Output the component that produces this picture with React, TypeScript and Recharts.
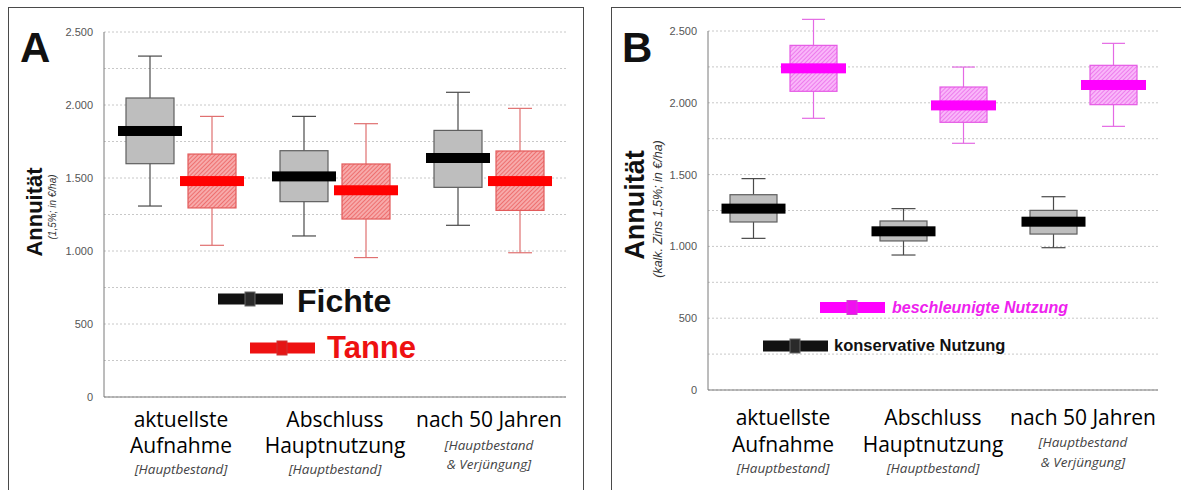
import React from 'react';
import { ComposedChart, Bar, XAxis, YAxis, CartesianGrid } from 'recharts';

// Category keys and their multi-line captions
const categoryKeys = ['aktuell', 'abschluss', 'nach50'];
const categoryTitles = [['aktuellste', 'Aufnahme'], ['Abschluss', 'Hauptnutzung'], ['nach 50 Jahren']];
const categoryNotes = [['[Hauptbestand]'], ['[Hauptbestand]'], ['[Hauptbestand', '& Verjüngung]']];

// Five-number summaries per category: [min, q1, median, q3, max] in €/ha
const fichte = [
  [1308, 1598, 1822, 2048, 2335],
  [1103, 1338, 1511, 1687, 1922],
  [1176, 1436, 1637, 1826, 2087],
];
const tanne = [
  [1039, 1295, 1479, 1664, 1922],
  [955, 1219, 1416, 1596, 1872],
  [988, 1278, 1479, 1685, 1977],
];
const konservativ = [
  [1056, 1170, 1263, 1360, 1472],
  [940, 1038, 1105, 1177, 1263],
  [991, 1086, 1172, 1251, 1346],
];
const beschleunigt = [
  [1892, 2080, 2240, 2400, 2581],
  [1718, 1864, 1982, 2110, 2249],
  [1836, 1987, 2124, 2261, 2414],
];

const yTicks = [0, 250, 500, 750, 1000, 1250, 1500, 1750, 2000, 2250, 2500];
const yLabelStep = 500;

type Stats = { min: number; q1: number; median: number; q3: number; max: number };
const toStats = (v: number[]): Stats => ({ min: v[0], q1: v[1], median: v[2], q3: v[3], max: v[4] });

const rowsA = categoryKeys.map((cat, i) => ({ cat, s1: toStats(fichte[i]), s2: toStats(tanne[i]) }));
const rowsB = categoryKeys.map((cat, i) => ({ cat, s1: toStats(konservativ[i]), s2: toStats(beschleunigt[i]) }));

type BoxStyle = {
  fill: string;
  border: string;
  whisker: string;
  median: string;
  capWidth: number;
  medianWidth: number;
};

const styleGray: BoxStyle = { fill: '#BEBEBE', border: '#5f5f5f', whisker: '#4a4a4a', median: '#000000', capWidth: 24, medianWidth: 64 };
const styleRed: BoxStyle = { fill: 'url(#hatchRed)', border: '#E25A5A', whisker: '#E07070', median: '#FF0000', capWidth: 24, medianWidth: 64 };
const styleMagenta: BoxStyle = { fill: 'url(#hatchMagenta)', border: '#E55AE5', whisker: '#E46AE4', median: '#FF00FF', capWidth: 23, medianWidth: 65 };

// The bar spans q1..q3 through the chart's y scale; the rest of the box plot
// is placed with the same pixel-per-value ratio.
const makeBoxShape = (key: 's1' | 's2', st: BoxStyle, rows: any[]) => (props: any) => {
  const { x, y, width, height, index } = props;
  const row = props.payload && props.payload[key] ? props.payload : rows[index];
  const s: Stats = row[key];
  const top = Math.min(y, y + height);
  const bottom = Math.max(y, y + height);
  const k = (bottom - top) / (s.q3 - s.q1);
  const toY = (v: number) => bottom - (v - s.q1) * k;
  const cx = x + width / 2;
  const yMax = toY(s.max);
  const yMin = toY(s.min);
  const yQ3 = toY(s.q3);
  const yQ1 = toY(s.q1);
  const yMed = toY(s.median);
  return (
    <g>
      <line x1={cx} x2={cx} y1={yMax} y2={yMin} stroke={st.whisker} strokeWidth={1.2} />
      <line x1={cx - st.capWidth / 2} x2={cx + st.capWidth / 2} y1={yMax} y2={yMax} stroke={st.whisker} strokeWidth={1.2} />
      <line x1={cx - st.capWidth / 2} x2={cx + st.capWidth / 2} y1={yMin} y2={yMin} stroke={st.whisker} strokeWidth={1.2} />
      <rect x={cx - width / 2} y={yQ3} width={width} height={yQ1 - yQ3} fill={st.fill} stroke={st.border} strokeWidth={1.2} />
      <rect x={cx - st.medianWidth / 2} y={yMed - 5} width={st.medianWidth} height={10} fill={st.median} />
    </g>
  );
};

const fmt = (v: number) => (v % yLabelStep === 0 ? v.toLocaleString('de-DE') : '');

const makeCategoryTick = (titleY: number[], noteY: number[][]) => (props: any) => {
  const { x, y, payload, index } = props;
  const i = typeof index === 'number' ? index : categoryKeys.indexOf(payload.value);
  const titles = categoryTitles[i];
  const notes = categoryNotes[i];
  const ny = noteY[notes.length === 1 ? 0 : 1];
  return (
    <g>
      {titles.map((t, j) => (
        <text key={'t' + j} x={x} y={y + titleY[j]} textAnchor="middle" fontFamily="'Open Sans', sans-serif" fontWeight={500} fontSize={21} fill="#000">
          {t}
        </text>
      ))}
      {notes.map((t, j) => (
        <text key={'n' + j} x={x} y={y + ny[j]} textAnchor="middle" fontFamily="'Open Sans', sans-serif" fontStyle="italic" fontSize={13.5} fill="#444">
          {t}
        </text>
      ))}
    </g>
  );
};

const emptyTick = () => <g />;

type PanelProps = {
  rows: any[];
  width: number;
  margin: { top: number; right: number; bottom: number; left: number };
  xAxisHeight: number;
  barSize: number;
  barGap: number;
  st1: BoxStyle;
  st2: BoxStyle;
  titleY: number[];
  noteY: number[][];
  name1: string;
  name2: string;
};

const Panel = (p: PanelProps) => (
  <ComposedChart width={p.width} height={490} data={p.rows} margin={p.margin} barGap={p.barGap} barSize={p.barSize}>
    <CartesianGrid vertical={false} stroke="#c8c8c8" strokeDasharray="2 2" />
    <XAxis
      dataKey="cat"
      height={p.xAxisHeight}
      tickLine={false}
      tickSize={0}
      tickMargin={0}
      axisLine={{ stroke: '#7a7a7a' }}
      tick={makeCategoryTick(p.titleY, p.noteY)}
      interval={0}
    />
    <XAxis
      dataKey="cat"
      xAxisId="top"
      orientation="top"
      mirror
      height={0}
      tickSize={4}
      tickLine={{ stroke: '#7a7a7a' }}
      axisLine={{ stroke: '#7a7a7a' }}
      tick={emptyTick}
      interval={0}
    />
    <XAxis
      dataKey="cat"
      xAxisId="bottomTicks"
      orientation="bottom"
      mirror
      height={0}
      tickSize={4}
      tickLine={{ stroke: '#7a7a7a' }}
      axisLine={false}
      tick={emptyTick}
      interval={0}
    />
    <YAxis
      domain={[0, 2500]}
      ticks={yTicks}
      interval={0}
      width={50}
      tickLine={false}
      tickSize={6}
      tickMargin={5}
      tickFormatter={fmt}
      axisLine={{ stroke: '#7a7a7a' }}
      tick={{ fontSize: 11, fill: '#555', fontFamily: "'Liberation Sans', Arial, sans-serif" }}
    />
    <YAxis
      yAxisId="innerTicks"
      domain={[0, 2500]}
      ticks={yTicks}
      interval={0}
      mirror
      width={0}
      tickSize={3}
      tickLine={{ stroke: '#7a7a7a' }}
      axisLine={false}
      tick={emptyTick}
    />
    <YAxis
      yAxisId="right"
      orientation="right"
      domain={[0, 2500]}
      mirror
      width={0}
      tickLine={false}
      axisLine={{ stroke: '#7a7a7a' }}
      tick={emptyTick}
    />
    <Bar name={p.name1} dataKey={(d: any) => [d.s1.q1, d.s1.q3]} isAnimationActive={false} shape={makeBoxShape('s1', p.st1, p.rows)} />
    <Bar name={p.name2} dataKey={(d: any) => [d.s2.q1, d.s2.q3]} isAnimationActive={false} shape={makeBoxShape('s2', p.st2, p.rows)} />
  </ComposedChart>
);

const sans = "'Liberation Sans', Arial, sans-serif";

const LegendKey = ({ x, y, color, inner, innerStroke }: { x: number; y: number; color: string; inner: string; innerStroke: string }) => (
  <g>
    <rect x={x} y={y} width={65} height={11} fill={color} />
    <rect x={x + 27} y={y - 1.5} width={10} height={14} fill={inner} stroke={innerStroke} strokeWidth={1} />
  </g>
);

export default function App() {
  return (
    <div style={{ position: 'absolute', left: 0, top: 0, width: 1181, height: 490, overflow: 'hidden', background: '#fff' }}>
      <svg width={0} height={0} style={{ position: 'absolute' }}>
        <defs>
          <pattern id="hatchRed" width={3} height={3} patternUnits="userSpaceOnUse" patternTransform="rotate(45)">
            <rect width={3} height={3} fill="#F7AAAA" />
            <line x1={0} y1={0} x2={0} y2={3} stroke="#E84848" strokeWidth={1.2} />
          </pattern>
          <pattern id="hatchMagenta" width={3} height={3} patternUnits="userSpaceOnUse" patternTransform="rotate(45)">
            <rect width={3} height={3} fill="#F9B6F9" />
            <line x1={0} y1={0} x2={0} y2={3} stroke="#E655E6" strokeWidth={1.2} />
          </pattern>
        </defs>
      </svg>

      {/* panel frames */}
      <div style={{ position: 'absolute', left: 8, top: 7, width: 574, height: 520, border: '1.5px solid #4a4a4a' }} />
      <div style={{ position: 'absolute', left: 611, top: 7, width: 620, height: 520, border: '1.5px solid #4a4a4a' }} />

      <div style={{ position: 'absolute', left: 0, top: 0 }}>
        <Panel
          rows={rowsA}
          width={600}
          margin={{ top: 32, right: 34, bottom: 0, left: 54 }}
          xAxisHeight={93}
          barSize={48}
          barGap={14}
          st1={styleGray}
          st2={styleRed}
          titleY={[30, 56]}
          noteY={[[77], [53, 72]]}
          name1="Fichte"
          name2="Tanne"
        />
      </div>
      <div style={{ position: 'absolute', left: 600, top: 0 }}>
        <Panel
          rows={rowsB}
          width={581}
          margin={{ top: 31, right: 23, bottom: 0, left: 58 }}
          xAxisHeight={100}
          barSize={47}
          barGap={13}
          st1={styleGray}
          st2={styleMagenta}
          titleY={[35, 62]}
          noteY={[[83], [57, 77]]}
          name1="konservative Nutzung"
          name2="beschleunigte Nutzung"
        />
      </div>

      {/* panel letters, axis titles and legends */}
      <svg width={1181} height={490} style={{ position: 'absolute', left: 0, top: 0, pointerEvents: 'none' }}>
        <text x={20} y={62} fontFamily={sans} fontWeight="bold" fontSize={42} fill="#111">A</text>
        <text x={622} y={62} fontFamily={sans} fontWeight="bold" fontSize={42} fill="#111">B</text>

        <text transform="translate(42,212) rotate(-90)" textAnchor="middle" fontFamily={sans} fontWeight="bold" fontSize={22} fill="#111">Annuität</text>
        <text transform="translate(56,207) rotate(-90)" textAnchor="middle" fontFamily={sans} fontStyle="italic" fontSize={10} fill="#333">(1,5%; in €/ha)</text>

        <text transform="translate(644,205) rotate(-90)" textAnchor="middle" fontFamily={sans} fontWeight="bold" fontSize={27} fill="#111">Annuität</text>
        <text transform="translate(662,209) rotate(-90)" textAnchor="middle" fontFamily={sans} fontStyle="italic" fontSize={12.5} fill="#333">(kalk. Zins 1,5%; in €/ha)</text>

        <LegendKey x={218} y={293.5} color="#111" inner="#2a2a2a" innerStroke="#666" />
        <text x={297} y={312} fontFamily={sans} fontWeight="bold" fontSize={32} fill="#111">Fichte</text>
        <LegendKey x={250} y={342.5} color="#EE1111" inner="#E51515" innerStroke="#cc3333" />
        <text x={327} y={358} fontFamily={sans} fontWeight="bold" fontSize={31} fill="#EE1111">Tanne</text>

        <LegendKey x={820} y={302} color="#FF00FF" inner="#F010F0" innerStroke="#d040d0" />
        <text x={892} y={313} fontFamily={sans} fontWeight="bold" fontStyle="italic" fontSize={16} fill="#EE22EE">beschleunigte Nutzung</text>
        <LegendKey x={763} y={340.5} color="#111" inner="#2a2a2a" innerStroke="#666" />
        <text x={834} y={351} fontFamily={sans} fontWeight="bold" fontSize={16.5} fill="#111">konservative Nutzung</text>
      </svg>
    </div>
  );
}
